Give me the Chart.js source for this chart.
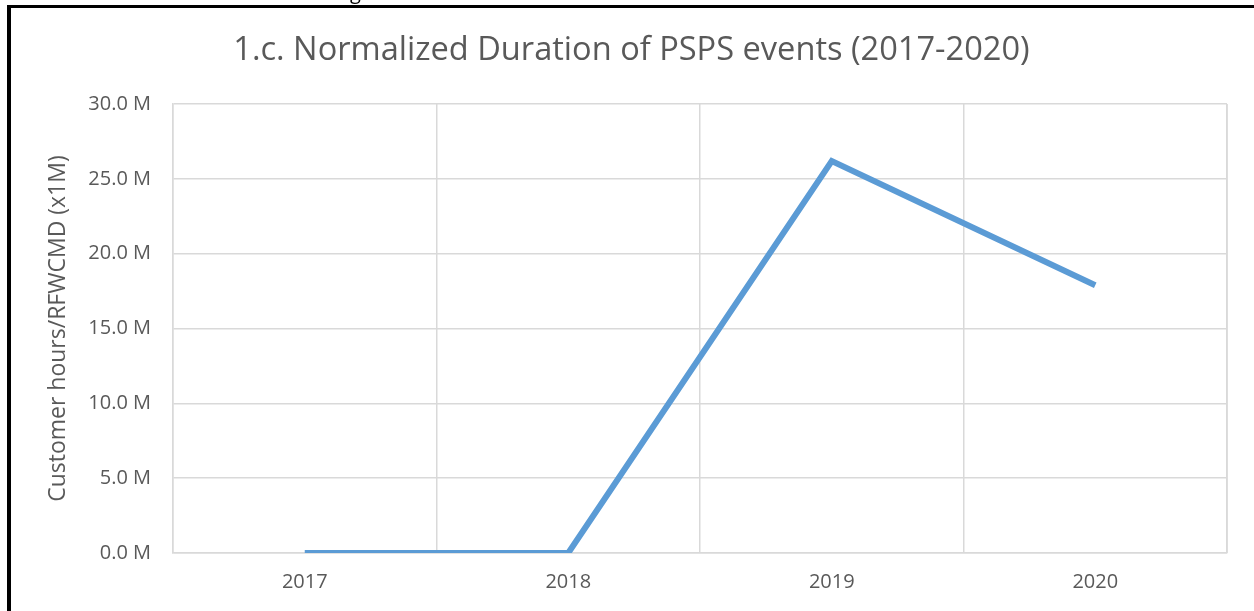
<!DOCTYPE html>
<html>
<head>
<meta charset="utf-8">
<script src="https://cdn.jsdelivr.net/npm/chart.js@4.4.1/dist/chart.umd.min.js"></script>
<style>
  html, body { margin: 0; padding: 0; background: #fff; overflow: hidden; }
  #wrap { position: absolute; left: 0; top: 0; width: 1254px; height: 611px; }
  #frame {
    position: absolute; left: 7px; top: 5px; width: 1300px; height: 700px;
    border-left: 4px solid #000; border-top: 3px solid #000; box-sizing: border-box;
    pointer-events: none;
  }
  #cut { position: absolute; left: 350px; top: -18px; font: 20px 'Open Sans', sans-serif; line-height: 20px; color: #000; }
</style>
</head>
<body>
<div id="wrap">
  <canvas id="chart" width="1254" height="611"></canvas>
  <div id="frame"></div>
  <div id="cut">g</div>
</div>
<script>
  const years = ["2017", "2018", "2019", "2020"];
  const durationM = [0, 0, 26.2, 17.9];
  const yTicks = [0, 5, 10, 15, 20, 25, 30];

  const textColor = "#595959";
  const gridColor = "#D9D9D9";
  const fontFamily = "'Open Sans', sans-serif";

  new Chart(document.getElementById("chart"), {
    type: "line",
    data: {
      labels: years,
      datasets: [
        {
          label: "Normalized Duration",
          data: durationM,
          borderColor: "#5B9BD5",
          borderWidth: 6,
          pointRadius: 0,
          tension: 0,
          fill: false,
        },
      ],
    },
    options: {
      responsive: false,
      animation: false,
      layout: { padding: { left: 10, right: 27, top: 0, bottom: 0 } },
      plugins: {
        legend: { display: false },
        tooltip: { enabled: false },
        title: {
          display: true,
          text: "1.c. Normalized Duration of PSPS events (2017-2020)",
          color: textColor,
          font: { family: fontFamily, size: 32.6, weight: "normal" },
          padding: { top: 31, bottom: 34 },
        },
      },
      scales: {
        x: {
          offset: true,
          grid: { offset: true, color: gridColor, lineWidth: 1.5, drawTicks: false },
          border: { color: gridColor, width: 1.5 },
          ticks: { color: textColor, font: { family: fontFamily, size: 20 }, padding: 17 },
        },
        y: {
          min: 0,
          max: 30,
          afterBuildTicks(scale) {
            scale.ticks = yTicks.map((v) => ({ value: v }));
          },
          afterFit(scale) {
            scale.width = 163;
          },
          grid: { color: gridColor, lineWidth: 1.5, drawTicks: false },
          border: { color: gridColor, width: 1.5 },
          ticks: {
            color: textColor,
            font: { family: fontFamily, size: 20 },
            padding: 22,
            callback: (v) => Number(v).toFixed(1) + " M",
          },
          title: {
            display: true,
            text: "Customer hours/RFWCMD (x1M)",
            color: textColor,
            font: { family: fontFamily, size: 23 },
            padding: { top: 35, bottom: 0 },
          },
        },
      },
    },
    plugins: [
      {
        id: "titleShift",
        afterLayout(chart) {
          // the source title is centred on the whole figure, not the padded box
          if (chart.titleBlock) {
            chart.titleBlock.left += 13;
            chart.titleBlock.right += 13;
          }
        },
      },
      {
        id: "rightEdge",
        afterDraw(chart) {
          const { ctx, chartArea } = chart;
          ctx.save();
          ctx.strokeStyle = gridColor;
          ctx.lineWidth = 1.5;
          ctx.beginPath();
          ctx.moveTo(chartArea.right, chartArea.top);
          ctx.lineTo(chartArea.right, chartArea.bottom);
          ctx.stroke();
          ctx.restore();
        },
      },
    ],
  });
</script>
</body>
</html>
